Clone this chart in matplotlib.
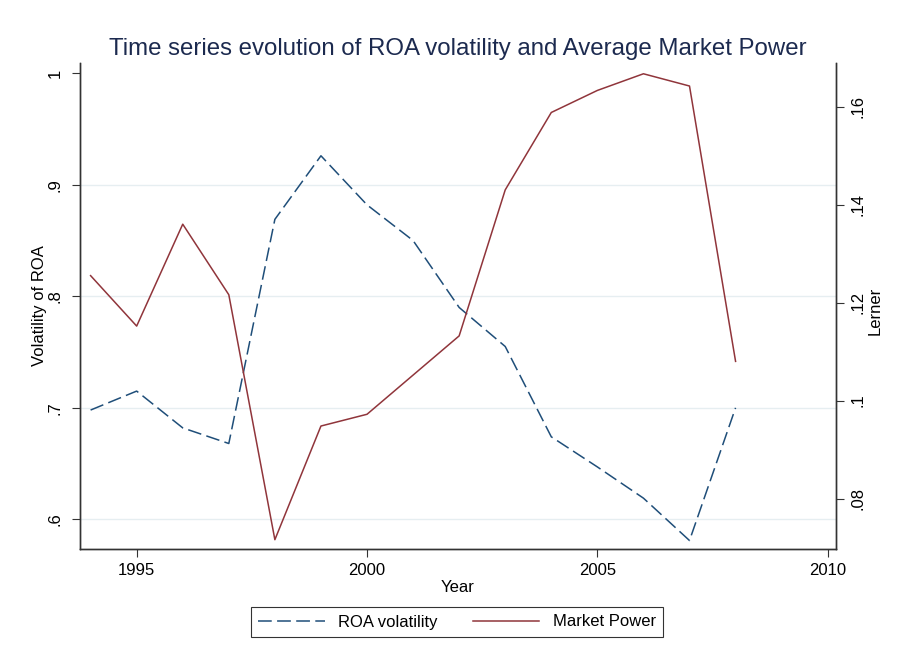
import matplotlib
matplotlib.use('Agg')
import matplotlib.pyplot as plt

plt.rcParams['font.family'] = ['Liberation Sans', 'DejaVu Sans']

# ---- data ----
years = [1994, 1995, 1996, 1997, 1998, 1999, 2000, 2001, 2002, 2003, 2004, 2005, 2006, 2007, 2008]
roa_volatility = [0.698, 0.715, 0.682, 0.668, 0.869, 0.926, 0.882, 0.850, 0.790,
                  0.755, 0.674, 0.647, 0.619, 0.581, 0.700]
market_power = [0.1255, 0.1152, 0.1360, 0.1216, 0.0716, 0.0948, 0.0972, 0.1052, 0.1132,
                0.1430, 0.1588, 0.1633, 0.1667, 0.1642, 0.1080]

x_ticks = [1995, 2000, 2005, 2010]
left_ticks = [0.6, 0.7, 0.8, 0.9, 1.0]
left_ticklabels = ['.6', '.7', '.8', '.9', '1']
right_ticks = [0.08, 0.10, 0.12, 0.14, 0.16]
right_ticklabels = ['.08', '.1', '.12', '.14', '.16']

title = 'Time series evolution of ROA volatility and Average Market Power'

# ---- figure ----
W, H = 899, 659
fig = plt.figure(figsize=(W / 100, H / 100), dpi=100)
fig.patch.set_facecolor('white')
ax = fig.add_axes([80 / W, (H - 549) / H, 756 / W, 486 / H])
ax2 = ax.twinx()

blue = '#1f4e79'
red = '#90353b'
grid_c = '#e6eef1'
spine_c = '#333333'

l1, = ax.plot(years, roa_volatility, color=blue, lw=1.1,
              linestyle=(0, (9, 3.5)), label='ROA volatility')
l2, = ax2.plot(years, market_power, color=red, lw=1.1, label='Market Power')

ax.set_xlim(1993.77, 2010.18)
ax.set_ylim(0.5734, 1.0092)
ax2.set_ylim(0.0697, 0.1689)

ax.set_xticks(x_ticks)
ax.set_xticklabels([str(t) for t in x_ticks])
ax.set_yticks(left_ticks)
ax.set_yticklabels(left_ticklabels, rotation=90, va='center')
ax2.set_yticks(right_ticks)
ax2.set_yticklabels(right_ticklabels, rotation=90, va='center')

for a in (ax, ax2):
    a.tick_params(direction='out', length=5.8, width=0.8, labelsize=12,
                  pad=4.5, color=spine_c, labelcolor='black')
    a.spines['top'].set_visible(False)
    for s in ('left', 'right', 'bottom'):
        a.spines[s].set_color(spine_c)
        a.spines[s].set_linewidth(1.0)
ax.tick_params(axis='y', pad=6.5)

ax.yaxis.grid(True, color=grid_c, lw=1.0)
ax.set_axisbelow(True)
ax.get_ygridlines()[-1].set_visible(False)

ax.set_title(title, fontsize=17.3, color='#1c2a4f', pad=5.5)
ax.set_xlabel('Year', fontsize=12, labelpad=1)
ax.set_ylabel('Volatility of ROA', fontsize=12)
ax.yaxis.set_label_coords((47 - 80) / 756, 0.5)
ax2.set_ylabel('Lerner', fontsize=12)
ax2.yaxis.set_label_coords((868 - 80) / 756, 0.49)

leg = fig.legend([l1, l2], ['ROA volatility', 'Market Power'], loc='center',
                 bbox_to_anchor=(457 / W, 1 - 622 / H), ncol=2, frameon=True,
                 fancybox=False, edgecolor='black', fontsize=12, handlelength=4,
                 handletextpad=0.8, columnspacing=2.1, borderpad=0.45)
leg.get_frame().set_linewidth(0.8)

fig.savefig('out.png', dpi=100, facecolor='white')
